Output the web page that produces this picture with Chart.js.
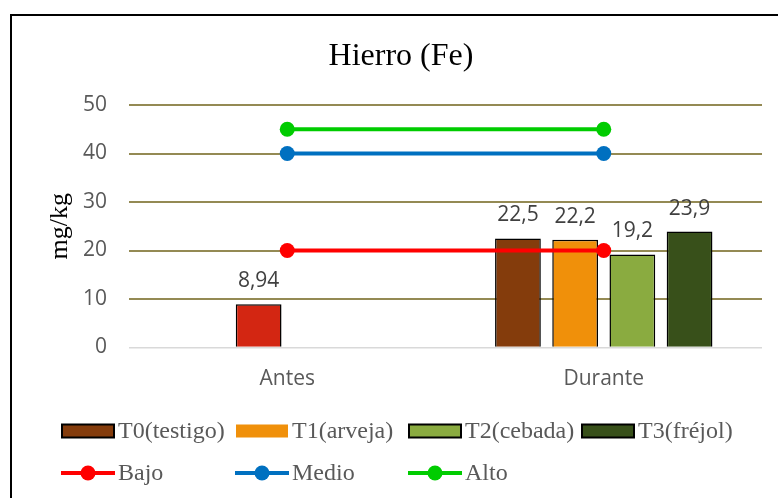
<!DOCTYPE html>
<html>
<head>
<meta charset="utf-8">
<script src="https://cdn.jsdelivr.net/npm/chart.js@4/dist/chart.umd.min.js"></script>
<style>
  html, body { margin: 0; padding: 0; background: #fff; }
  #wrap { width: 778px; height: 498px; }
</style>
</head>
<body>
<div id="wrap"><canvas id="c" width="778" height="498"></canvas></div>
<script>
// ---- data ----
const chartTitle = "Hierro (Fe)";
const yAxisTitle = "mg/kg";
const categories = ["Antes", "Durante"];
const t0Testigo = [null, 22.5];
const t1Arveja  = [8.94, 22.2];
const t2Cebada  = [null, 19.2];
const t3Frejol  = [null, 23.9];
const bajo  = [20, 20];
const medio = [40, 40];
const alto  = [45, 45];
const yTicks = [0, 10, 20, 30, 40, 50];
const seriesNames = ["T0(testigo)", "T1(arveja)", "T2(cebada)", "T3(fréjol)", "Bajo", "Medio", "Alto"];

const TICK_FONT = "'Open Sans', sans-serif";
const SERIF = "'Liberation Serif', 'Times New Roman', serif";

function barDs(label, data, color, legendBorder) {
  return {
    type: 'bar', label, data,
    backgroundColor: color,
    borderColor: '#000000',
    borderWidth: 1.5,
    order: 2,
    legendBorder: legendBorder,
    legendColor: Array.isArray(color) ? color[color.length - 1] : color
  };
}
function lineDs(label, data, color) {
  return {
    type: 'line', label, data,
    borderColor: color,
    backgroundColor: color,
    borderWidth: 4,
    pointRadius: 7.5,
    pointBorderWidth: 0,
    pointBackgroundColor: color,
    fill: false,
    tension: 0,
    order: 0,
    legendColor: color
  };
}

const datasets = [
  barDs(seriesNames[0], t0Testigo, '#843c0c', true),
  barDs(seriesNames[1], t1Arveja, ['#d32612', '#f0900a'], false),
  barDs(seriesNames[2], t2Cebada, '#8aab40', true),
  barDs(seriesNames[3], t3Frejol, '#38501a', true),
  lineDs(seriesNames[4], bajo, '#ff0000'),
  lineDs(seriesNames[5], medio, '#0070c0'),
  lineDs(seriesNames[6], alto, '#00cc00')
];

const framePlugin = {
  id: 'frame',
  beforeDraw(chart) {
    const ctx = chart.ctx;
    ctx.save();
    ctx.fillStyle = '#ffffff';
    ctx.fillRect(0, 0, chart.width, chart.height);
    ctx.strokeStyle = '#000000';
    ctx.lineWidth = 2;
    ctx.strokeRect(11, 15, 1000, 1000);
    ctx.restore();
  },
  afterDraw(chart) {
    const ctx = chart.ctx;
    ctx.save();
    // title
    ctx.fillStyle = '#000000';
    ctx.font = "32px " + SERIF;
    ctx.textAlign = 'center';
    ctx.textBaseline = 'alphabetic';
    ctx.fillText(chartTitle, 401, 65);
    // legend
    const cols = [62, 236, 409, 582];
    ctx.font = "24px " + SERIF;
    ctx.textAlign = 'left';
    ctx.textBaseline = 'middle';
    chart.data.datasets.forEach((ds, i) => {
      const row = i < 4 ? 0 : 1;
      const col = i < 4 ? i : i - 4;
      const x = cols[col];
      const y = row === 0 ? 431 : 473;
      if (ds.type === 'bar') {
        ctx.fillStyle = ds.legendColor;
        ctx.fillRect(x, y - 6.5, 52, 13);
        if (ds.legendBorder) {
          ctx.strokeStyle = '#000';
          ctx.lineWidth = 2;
          ctx.strokeRect(x, y - 6.5, 52, 13);
        }
      } else {
        ctx.strokeStyle = ds.legendColor;
        ctx.lineWidth = 4;
        ctx.beginPath();
        ctx.moveTo(x - 1, y);
        ctx.lineTo(x + 53, y);
        ctx.stroke();
        ctx.fillStyle = ds.legendColor;
        ctx.beginPath();
        ctx.arc(x + 26, y, 7.5, 0, Math.PI * 2);
        ctx.fill();
      }
      ctx.fillStyle = '#595959';
      ctx.fillText(ds.label, x + 56, y + 1);
    });
    ctx.restore();
  }
};

const labelPlugin = {
  id: 'barLabels',
  afterDatasetsDraw(chart) {
    const ctx = chart.ctx;
    ctx.save();
    ctx.font = "21px " + TICK_FONT;
    ctx.fillStyle = '#404040';
    ctx.textAlign = 'center';
    ctx.textBaseline = 'alphabetic';
    chart.data.datasets.forEach((ds, i) => {
      if (ds.type !== 'bar') return;
      const meta = chart.getDatasetMeta(i);
      meta.data.forEach((el, j) => {
        const v = ds.data[j];
        if (v === null || v === undefined) return;
        ctx.fillText(String(v).replace('.', ','), el.x, el.y - 17);
      });
    });
    ctx.restore();
  }
};

new Chart(document.getElementById('c'), {
  type: 'bar',
  data: { labels: categories, datasets },
  options: {
    responsive: false,
    devicePixelRatio: 1,
    animation: false,
    events: [],
    layout: { padding: { left: 10, right: 16, top: 105, bottom: 100 } },
    datasets: { bar: { categoryPercentage: 0.723, barPercentage: 0.8 } },
    plugins: {
      legend: { display: false },
      title: { display: false },
      tooltip: { enabled: false }
    },
    scales: {
      x: {
        grid: { display: false, drawTicks: false },
        border: { display: false },
        ticks: { font: { family: TICK_FONT, size: 21 }, color: '#595959', padding: 19 },
        afterFit(s) { s.height = 50.5; }
      },
      y: {
        min: 0, max: 50,
        afterBuildTicks(s) { s.ticks = yTicks.map(v => ({ value: v })); },
        grid: {
          drawTicks: false,
          color: c => (c.tick && c.tick.value === 0) ? '#d9d9d9' : '#948a54',
          lineWidth: c => (c.tick && c.tick.value === 0) ? 1.5 : 2
        },
        border: { display: false },
        ticks: { font: { family: TICK_FONT, size: 21 }, color: '#595959', padding: 22 },
        title: {
          display: true, text: yAxisTitle, color: '#000000',
          font: { family: SERIF, size: 26 },
          padding: { top: 35, bottom: 0 }
        },
        afterFit(s) { s.width = 119; }
      }
    }
  },
  plugins: [framePlugin, labelPlugin]
});
</script>
</body>
</html>
